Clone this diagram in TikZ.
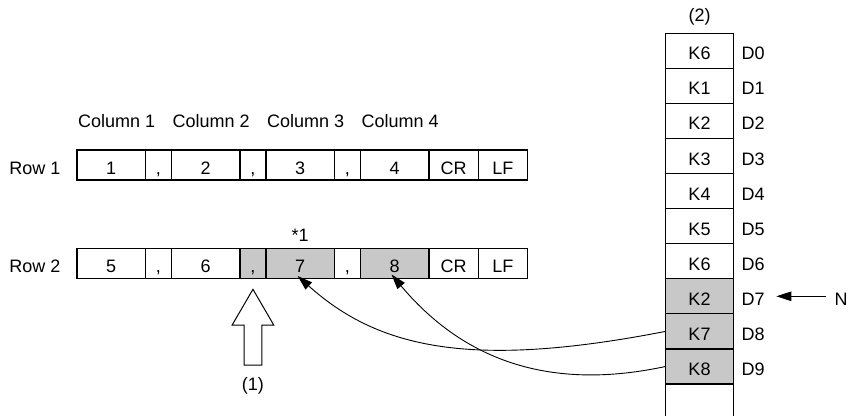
\documentclass[tikz,border=0pt]{standalone}
\usepackage{fontspec}
\setmainfont{Liberation Sans}
\usetikzlibrary{arrows.meta, positioning, calc}
\definecolor{cellgray}{RGB}{200,200,200}

\begin{document}
\begin{tikzpicture}[x=1pt, y=1pt,
    every node/.style={font=\fontsize{18}{21}\selectfont, inner sep=0pt, outer sep=0pt, text height=18pt, text depth=0pt},
    cell/.style={rectangle, draw, line width=1.2pt, minimum height=30pt},
    val/.style={cell, minimum width=68.5pt},
    sep/.style={cell, minimum width=26pt},
    ctl/.style={cell, minimum width=49.3pt},
    reg/.style={rectangle, draw, line width=1.2pt, minimum width=67.6pt, minimum height=35.07pt},
    hit/.style={fill=cellgray},
    link/.style={line width=0.9pt, -{Triangle[length=15pt,width=9.5pt]}}]
    \useasboundingbox (0,0) rectangle (849,-416);

    % row 1
    \node[val] (a1) at (111.2,-165) {1};
    \node[sep, right=0pt of a1] (a2) {,};
    \node[val, right=0pt of a2] (a3) {2};
    \node[sep, right=0pt of a3] (a4) {,};
    \node[val, right=0pt of a4] (a5) {3};
    \node[sep, right=0pt of a5] (a6) {,};
    \node[val, right=0pt of a6] (a7) {4};
    \node[ctl, right=0pt of a7] (a8) {CR};
    \node[ctl, right=0pt of a8] (a9) {LF};
    \node[left=16.5pt of a1] (row1) {Row 1};

    % row 2
    \node[val] (b1) at (111.2,-263.3) {5};
    \node[sep, right=0pt of b1] (b2) {,};
    \node[val, right=0pt of b2] (b3) {6};
    \node[sep, hit, right=0pt of b3] (b4) {,};
    \node[val, hit, right=0pt of b4] (b5) {7};
    \node[sep, right=0pt of b5] (b6) {,};
    \node[val, hit, right=0pt of b6] (b7) {8};
    \node[ctl, right=0pt of b7] (b8) {CR};
    \node[ctl, right=0pt of b8] (b9) {LF};
    \node[left=16.5pt of b1] (row2) {Row 2};
    \node[above=6.6pt of b5] (note) {*1};

    % column titles
    \foreach \c/\n in {a1/1, a3/2, a5/3, a7/4}
        \node[above=22.7pt of \c, xshift=5.5pt] (col\n) {Column \n};

    % register block
    \node[reg] (k0) at (699.5,-50.8) {K6};
    \foreach \val/\bg [count=\i] in {K1/white, K2/white, K3/white, K4/white, K5/white,
        K6/white, K2/cellgray, K7/cellgray, K8/cellgray} {
        \pgfmathtruncatemacro{\j}{\i-1}
        \node[reg, fill=\bg, below=0pt of k\j] (k\i) {\val};
    }
    \foreach \i in {0,...,9}
        \node[right=8.4pt of k\i] (d\i) {D\i};
    \draw[line width=1.2pt] (k9.south west) -- (k9.south west |- 0,-416);
    \draw[line width=1.2pt] (k9.south east) -- (k9.south east |- 0,-416);
    \node[above=12pt of k0] (blk) {(2)};

    % pointer N
    \node[right=70pt of d7] (n) {N};
    \draw[line width=0.9pt, -{Triangle[length=15pt,width=9.5pt]}, shorten <=8.5pt, shorten >=11.6pt] (n.west) -- (d7.east);

    % transfer
    \draw[link, shorten >=-3.5pt] (k8.west) .. controls +(-195,-38) and +(78,-70) .. (b5.south);
    \draw[link, shorten >=-5pt] (k9.west) .. controls +(-125,-27) and +(63,-75) .. (b7.south);

    % hollow arrow (1)
    \draw[line width=1pt] ($(b4.south)+(0,-11)$) -- ++(20.8,-35.7) -- ++(-11.95,0) -- ++(0,-40)
        -- ++(-17.7,0) -- ++(0,40) -- ++(-11.95,0) -- cycle;
    \coordinate (tail) at ($(b4.south)+(0,-86.7)$);
    \node[below=7pt of tail] (pos1) {(1)};
\end{tikzpicture}
\end{document}
